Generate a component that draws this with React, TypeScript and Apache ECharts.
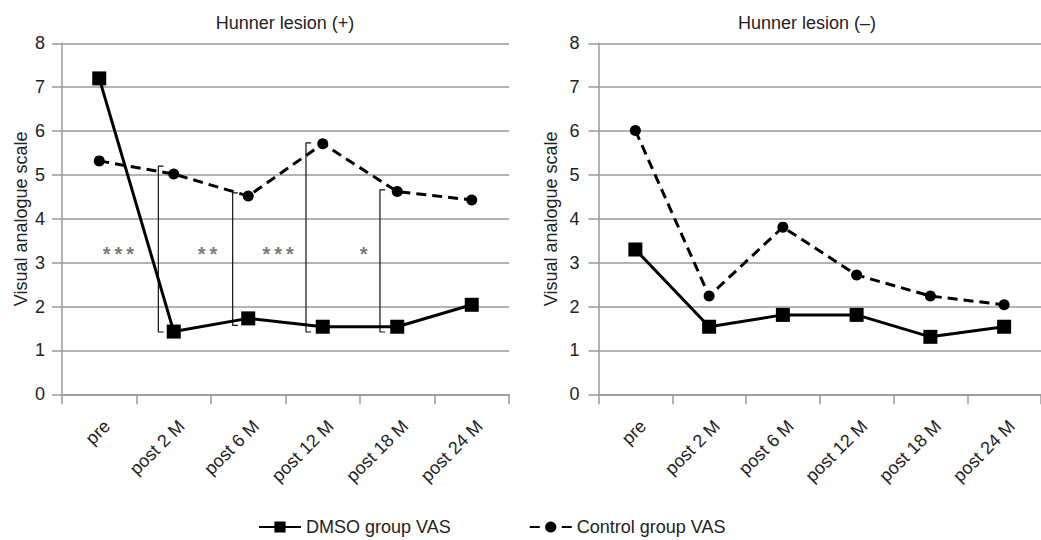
import React, { useEffect, useRef } from "react";
import * as echarts from "echarts";

const categories = ["pre", "post 2 M", "post 6 M", "post 12 M", "post 18 M", "post 24 M"];
const dmsoPlus = [7.2, 1.43, 1.73, 1.54, 1.54, 2.04];
const controlPlus = [5.32, 5.02, 4.52, 5.71, 4.62, 4.43];
const dmsoMinus = [3.3, 1.54, 1.81, 1.81, 1.31, 1.54];
const controlMinus = [6.01, 2.24, 3.81, 2.72, 2.24, 2.04];

// significance brackets (left panel), x in category units
const bracketX = [0.793, 1.791, 2.775, 3.768];
const bracketTop = [5.2, 4.59, 5.73, 4.66];
const bracketBottom = [1.42, 1.57, 1.42, 1.42];
const bracketTickLen = 0.07;

const starX = [0.256, 1.453, 2.4, 3.55];
const starY = [3.2, 3.2, 3.2, 3.2];
const starLabels = ["*\u2009*\u2009*", "*\u2009*", "*\u2009*\u2009*", "*"];

const titles = ["Hunner lesion (+)", "Hunner lesion (\u2013)"];
const seriesNames = ["DMSO group VAS", "Control group VAS"];
const yName = "Visual analogue scale";

const FONT = "'Liberation Sans', Arial, Helvetica, sans-serif";

export default function App() {
  const ref = useRef<HTMLDivElement>(null);

  useEffect(() => {
    document.body.style.margin = "0";
    if (!ref.current) return;
    const chart = echarts.init(ref.current, undefined, { renderer: "svg" });

    const grids = [
      { left: 62, top: 43.3, width: 447, height: 351 },
      { left: 598.5, top: 43.3, width: 447, height: 351 },
    ];

    const catAxis = (gridIndex: number) => ({
      type: "category",
      gridIndex,
      data: categories,
      boundaryGap: true,
      axisLine: { onZero: false, lineStyle: { color: "#9a9a9a", width: 1.5 } },
      axisTick: { show: true, length: 10, lineStyle: { color: "#9a9a9a", width: 1.5 } },
      axisLabel: {
        interval: 0,
        rotate: 45,
        margin: 21,
        fontSize: 18,
        fontFamily: FONT,
        color: "#222",
        verticalAlign: "top",
        lineHeight: 18,
        padding: [2, 0, 0, 0],
        hideOverlap: false,
      },
      splitLine: { show: false },
    });

    const valAxis = (gridIndex: number, nameGap: number, labelMargin: number) => ({
      type: "value",
      gridIndex,
      min: 0,
      max: 8,
      interval: 1,
      name: yName,
      nameLocation: "middle",
      nameGap,
      nameTextStyle: { fontSize: 18, fontFamily: FONT, color: "#222" },
      axisLine: { show: true, onZero: false, lineStyle: { color: "#9a9a9a", width: 1.5 } },
      axisTick: { show: true, length: 10, lineStyle: { color: "#9a9a9a", width: 1.5 } },
      axisLabel: { fontSize: 18, fontFamily: FONT, color: "#222", margin: labelMargin },
      splitLine: { show: true, lineStyle: { color: "#9a9a9a", width: 1.5 } },
    });

    const dmsoStyle = {
      type: "line",
      name: seriesNames[0],
      symbol: "rect",
      symbolSize: 14,
      lineStyle: { color: "#000", width: 3 },
      itemStyle: { color: "#000" },
      z: 5,
    };
    const controlStyle = {
      type: "line",
      name: seriesNames[1],
      symbol: "circle",
      symbolSize: 11,
      lineStyle: { color: "#000", width: 3, type: [10, 6] },
      itemStyle: { color: "#000" },
      z: 4,
    };

    const bracketSeries = bracketX.map((x, i) => ({
      type: "line",
      xAxisIndex: 1,
      yAxisIndex: 0,
      data: [
        [x + bracketTickLen, bracketTop[i]],
        [x, bracketTop[i]],
        [x, bracketBottom[i]],
        [x + bracketTickLen, bracketBottom[i]],
      ],
      symbol: "none",
      lineStyle: { color: "#111", width: 1.2 },
      silent: true,
      z: 3,
    }));

    const starSeries = {
      type: "scatter",
      xAxisIndex: 1,
      yAxisIndex: 0,
      symbolSize: 0,
      silent: true,
      data: starX.map((x, i) => ({ value: [x, starY[i]], name: starLabels[i] })),
      label: {
        show: true,
        position: "inside",
        formatter: (p: any) => p.name,
        fontSize: 20,
        fontWeight: "bold",
        fontFamily: FONT,
        color: "#555",
      },
      z: 3,
    };

    const option: any = {
      animation: false,
      backgroundColor: "#fff",
      title: [
        {
          text: titles[0],
          left: 280,
          top: 9,
          textAlign: "center",
          textStyle: { fontSize: 18, fontWeight: "normal", fontFamily: FONT, color: "#222" },
        },
        {
          text: titles[1],
          left: 802,
          top: 9,
          textAlign: "center",
          textStyle: { fontSize: 18, fontWeight: "normal", fontFamily: FONT, color: "#222" },
        },
      ],
      legend: {
        data: seriesNames,
        left: 253,
        top: 513,
        itemWidth: 42,
        itemHeight: 14,
        itemGap: 78,
        textStyle: { fontSize: 18, fontFamily: FONT, color: "#222" },
      },
      grid: grids,
      xAxis: [
        catAxis(0),
        { type: "value", gridIndex: 0, min: -0.5, max: 5.5, show: false },
        catAxis(1),
      ],
      yAxis: [valAxis(0, 32, 17), valAxis(1, 39, 19)],
      series: [
        { ...dmsoStyle, xAxisIndex: 0, yAxisIndex: 0, data: dmsoPlus },
        { ...controlStyle, xAxisIndex: 0, yAxisIndex: 0, data: controlPlus },
        { ...dmsoStyle, xAxisIndex: 2, yAxisIndex: 1, data: dmsoMinus },
        { ...controlStyle, xAxisIndex: 2, yAxisIndex: 1, data: controlMinus },
        ...bracketSeries,
        starSeries,
      ],
    };

    chart.setOption(option);
    return () => chart.dispose();
  }, []);

  return <div ref={ref} style={{ width: 1041, height: 540 }} />;
}
